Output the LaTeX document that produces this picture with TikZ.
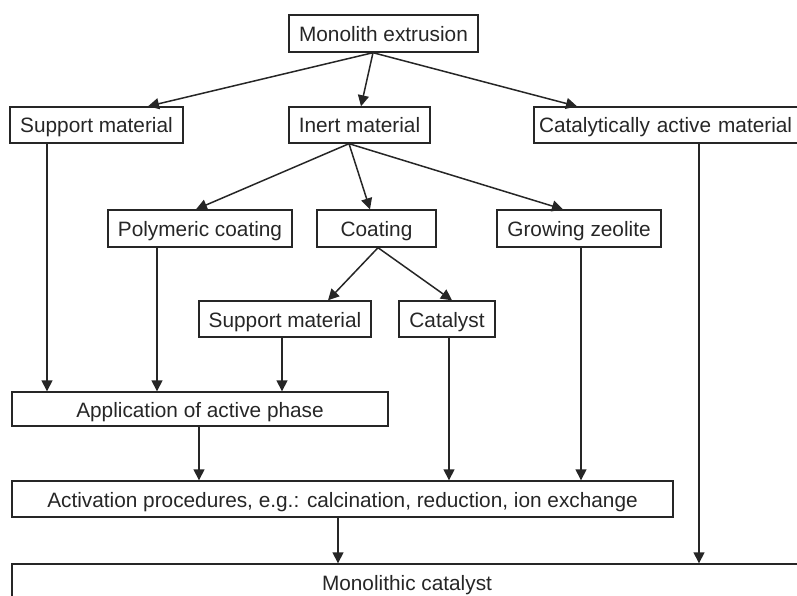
\documentclass[tikz,border=0pt]{standalone}
\usepackage{fontspec}
\setmainfont{Liberation Sans}
\usetikzlibrary{arrows.meta}
\begin{document}
\begin{tikzpicture}[x=1pt,y=-1pt,
  box/.style={draw=black!85,line width=1.4pt,inner sep=0pt,text height=16pt,text depth=0pt,
    font=\fontsize{20.8}{24}\selectfont,text=black!85},
  arr/.style={draw=black!85,line width=1.5pt,-{Triangle[length=11pt,width=11pt]}}]
\useasboundingbox (0,0) rectangle (797,596);
\begin{scope}
\clip (0,0) rectangle (797,596);
\node[box,minimum width=189pt,minimum height=37pt] (mono) at (383.5,33.5) {Monolith extrusion};
\node[box,minimum width=173pt,minimum height=36pt] (sup1) at (96.5,125) {Support material};
\node[box,minimum width=141pt,minimum height=36pt] (inert) at (359.5,125) {Inert material};
\node[box,minimum width=266pt,minimum height=36pt,text width=256pt,align=left] (cat) at (667,125) {Catalytically active material};
\node[box,minimum width=184pt,minimum height=37pt] (poly) at (200,228.5) {Polymeric coating};
\node[box,minimum width=119pt,minimum height=37pt] (coat) at (376.5,228.5) {Coating};
\node[box,minimum width=164pt,minimum height=37pt] (grow) at (579,228.5) {Growing zeolite};
\node[box,minimum width=172pt,minimum height=36pt] (sup2) at (285,319) {Support material};
\node[box,minimum width=96pt,minimum height=36pt] (catal) at (447,319) {Catalyst};
\node[box,minimum width=376pt,minimum height=34pt] (app) at (200,409) {Application of active phase};
\node[box,minimum width=661pt,minimum height=36pt] (act) at (342.5,499) {Activation procedures, e.g.: calcination, reduction, ion exchange};
\node[box,minimum width=790pt,minimum height=36pt] (monocat) at (407,582) {Monolithic catalyst};
\end{scope}
% top level
\draw[arr] ([xshift=-10.5pt]mono.south) -- ([xshift=51.5pt]sup1.north);
\draw[arr] ([xshift=-10.5pt]mono.south) -- ([xshift=1.5pt]inert.north);
\draw[arr] ([xshift=-10.5pt]mono.south) -- ([xshift=-90pt]cat.north);
% inert branches
\draw[arr] ([xshift=-10.5pt]inert.south) -- ([xshift=-4pt]poly.north);
\draw[arr] ([xshift=-10.5pt]inert.south) -- ([xshift=-6.5pt]coat.north);
\draw[arr] ([xshift=-10.5pt]inert.south) -- ([xshift=-16pt]grow.north);
% coating branches
\draw[arr] ([xshift=1.5pt]coat.south) -- ([xshift=43pt]sup2.north);
\draw[arr] ([xshift=1.5pt]coat.south) -- ([xshift=5pt]catal.north);
% into application
\draw[arr] ([xshift=-49.5pt]sup1.south) -- ([xshift=-49.5pt]sup1.south |- app.north);
\draw[arr] ([xshift=-43pt]poly.south) -- ([xshift=-43pt]poly.south |- app.north);
\draw[arr] ([xshift=-3pt]sup2.south) -- ([xshift=-3pt]sup2.south |- app.north);
% into activation
\draw[arr] ([xshift=-1pt]app.south) -- ([xshift=-1pt]app.south |- act.north);
\draw[arr] ([xshift=2pt]catal.south) -- ([xshift=2pt]catal.south |- act.north);
\draw[arr] ([xshift=2pt]grow.south) -- ([xshift=2pt]grow.south |- act.north);
% into monolithic catalyst
\draw[arr] ([xshift=-4.5pt]act.south) -- ([xshift=-4.5pt]act.south |- monocat.north);
\draw[arr] ([xshift=32pt]cat.south) -- ([xshift=32pt]cat.south |- monocat.north);
\end{tikzpicture}
\end{document}
